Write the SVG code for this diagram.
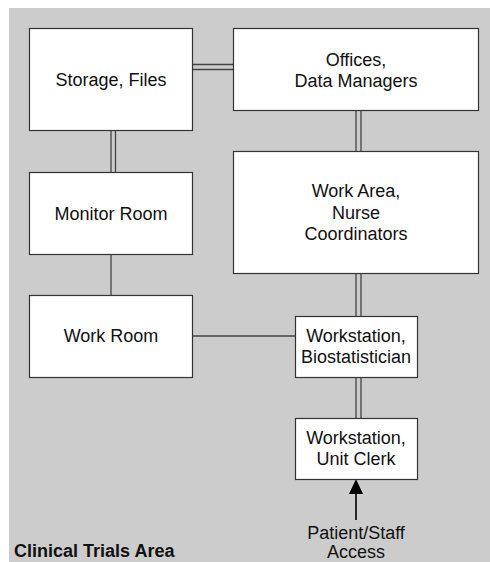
<svg xmlns="http://www.w3.org/2000/svg" width="490" height="562" viewBox="0 0 490 562">
<style>
.box{fill:#ffffff;stroke:#333333;stroke-width:1.2}
.t{font-family:"Liberation Sans",Arial,sans-serif;font-size:18px;fill:#111111;text-anchor:middle}
.c{stroke:#444444;stroke-width:1.3;fill:none}
</style>
<rect x="9" y="8" width="481" height="554" fill="#cccccc"/>
<g id="connectors">
<line class="c" x1="192" y1="64.5" x2="233" y2="64.5"/>
<line class="c" x1="192" y1="69.5" x2="233" y2="69.5"/>
<line class="c" x1="111" y1="130" x2="111" y2="172"/>
<line class="c" x1="115.5" y1="130" x2="115.5" y2="172"/>
<line class="c" x1="356" y1="110" x2="356" y2="151"/>
<line class="c" x1="361" y1="110" x2="361" y2="151"/>
<line class="c" x1="111" y1="254" x2="111" y2="295"/>
<line class="c" x1="356" y1="273" x2="356" y2="316"/>
<line class="c" x1="361" y1="273" x2="361" y2="316"/>
<line class="c" x1="192" y1="336" x2="295" y2="336"/>
<line class="c" x1="356" y1="377" x2="356" y2="418"/>
<line class="c" x1="361" y1="377" x2="361" y2="418"/>
<line x1="356" y1="520" x2="356" y2="492" stroke="#000" stroke-width="1.6"/>
<polygon points="356,479 349,494 363,494" fill="#000"/>
</g>
<g id="storage">
<rect class="box" x="29.5" y="28.5" width="163" height="102"/>
<text class="t" x="111" y="86">Storage, Files</text>
</g>
<g id="offices">
<rect class="box" x="233.5" y="28.5" width="245" height="82"/>
<text class="t" x="356" y="66">Offices,</text>
<text class="t" x="356" y="87">Data Managers</text>
</g>
<g id="monitor">
<rect class="box" x="29.5" y="172.5" width="163" height="82"/>
<text class="t" x="111" y="220">Monitor Room</text>
</g>
<g id="workarea">
<rect class="box" x="233.5" y="151.5" width="245" height="122"/>
<text class="t" x="356" y="197">Work Area,</text>
<text class="t" x="356" y="218.5">Nurse</text>
<text class="t" x="356" y="240">Coordinators</text>
</g>
<g id="workroom">
<rect class="box" x="29.5" y="295.5" width="163" height="82"/>
<text class="t" x="111" y="342">Work Room</text>
</g>
<g id="biostat">
<rect class="box" x="295.5" y="316.5" width="122" height="61"/>
<text class="t" x="356" y="342">Workstation,</text>
<text class="t" x="356" y="363">Biostatistician</text>
</g>
<g id="clerk">
<rect class="box" x="295.5" y="418.5" width="122" height="61"/>
<text class="t" x="356" y="444">Workstation,</text>
<text class="t" x="356" y="465">Unit Clerk</text>
</g>
<g id="access">
<text class="t" x="356" y="539">Patient/Staff</text>
<text class="t" x="356" y="558">Access</text>
</g>
<text x="14" y="557" font-family="Liberation Sans,Arial,sans-serif" font-size="18" font-weight="bold" fill="#111">Clinical Trials Area</text>
</svg>
